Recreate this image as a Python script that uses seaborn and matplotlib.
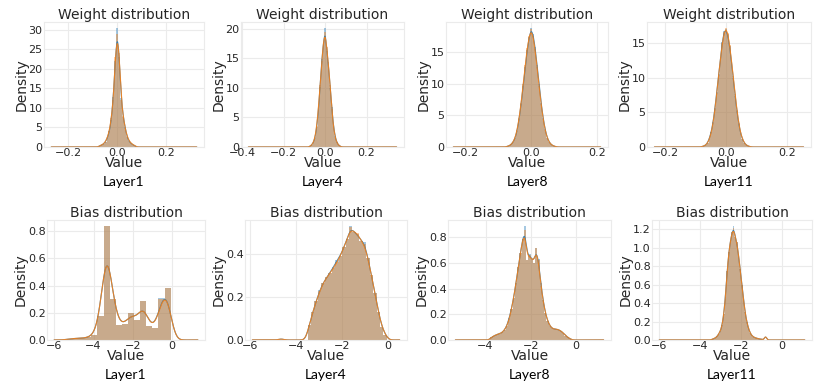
import numpy as np
import pandas as pd
import matplotlib
matplotlib.use("Agg")
import matplotlib.pyplot as plt
from matplotlib.ticker import MultipleLocator
import seaborn as sns

# ---------------------------------------------------------------- data
layer_names = ["Layer1", "Layer4", "Layer8", "Layer11"]

# Weight distributions: left edge of first bar, bar width, bar densities
w_l1_start, w_l1_width = -0.076, 0.008
w_l1_blue = [0.3, 0.5, 0.8, 1.3, 2.4, 4.0, 7.0, 12.8, 22.0, 30.5, 23.0, 12.5, 7.8, 5.0, 2.6, 1.5, 0.9, 0.6, 0.3]
w_l1_orange = [0.3, 0.5, 0.8, 1.4, 2.5, 4.2, 7.5, 12.0, 23.0, 29.0, 24.0, 12.0, 8.0, 4.8, 2.8, 1.6, 1.0, 0.6, 0.35]
w_l1_tail = [-0.27, 0.325]

w_l4_start, w_l4_width = -0.076, 0.008
w_l4_blue = [0.15, 0.35, 0.8, 1.6, 3.4, 6.2, 10.2, 14.8, 17.5, 20.1, 16.2, 14.3, 10.0, 6.8, 3.6, 1.8, 0.8, 0.35, 0.15]
w_l4_orange = [0.15, 0.35, 0.8, 1.7, 3.6, 6.5, 10.5, 14.5, 17.8, 19.5, 16.8, 14.0, 10.5, 6.4, 3.5, 1.7, 0.8, 0.35, 0.15]
w_l4_tail = [-0.37, 0.345]

w_l8_start, w_l8_width = -0.075, 0.006
w_l8_blue = [0.1, 0.2, 0.4, 0.8, 1.4, 2.6, 4.5, 6.8, 9.6, 12.6, 15.3, 17.4, 18.8, 17.9, 15.8, 12.9, 9.9, 7.0, 4.6, 2.8, 1.5, 0.8, 0.4, 0.2, 0.1]
w_l8_orange = [0.1, 0.2, 0.4, 0.8, 1.5, 2.7, 4.6, 7.0, 9.9, 12.9, 15.6, 17.5, 18.6, 17.6, 15.4, 12.6, 9.6, 6.8, 4.5, 2.7, 1.5, 0.8, 0.4, 0.2, 0.1]
w_l8_tail = [-0.235, 0.21]

w_l11_start, w_l11_width = -0.081, 0.006
w_l11_blue = [0.07, 0.15, 0.3, 0.6, 1.3, 2.2, 3.6, 5.6, 8.0, 10.6, 13.0, 15.2, 16.8, 17.0, 16.3, 14.6, 12.4, 10.0, 7.4, 5.2, 3.3, 2.0, 1.1, 0.6, 0.3, 0.15, 0.07]
w_l11_orange = [0.07, 0.15, 0.3, 0.6, 1.2, 2.1, 3.5, 5.5, 7.8, 10.4, 12.8, 15.0, 16.6, 17.2, 16.5, 14.8, 12.6, 10.2, 7.6, 5.4, 3.4, 2.0, 1.2, 0.6, 0.3, 0.15, 0.07]
w_l11_tail = [-0.235, 0.255]

# Bias distributions
b_l1_start, b_l1_width = -5.35, 0.31
b_l1_blue = [0.010, 0.012, 0.012, 0.020, 0.035, 0.180, 0.84, 0.30, 0.110, 0.118, 0.200, 0.145, 0.290, 0.105, 0.088, 0.310, 0.385]
b_l1_orange = [0.010, 0.012, 0.012, 0.020, 0.035, 0.177, 0.84, 0.30, 0.110, 0.118, 0.200, 0.145, 0.290, 0.105, 0.088, 0.300, 0.385]
b_l1_tail = [-6.0, 1.3]

b_l4_start, b_l4_width = -3.5, 0.15
b_l4_blue = [0.07, 0.13, 0.18, 0.23, 0.265, 0.29, 0.31, 0.34, 0.37, 0.39, 0.43, 0.47, 0.53, 0.50, 0.49, 0.46, 0.455, 0.38, 0.30, 0.22, 0.13, 0.06, 0.025]
b_l4_orange = [0.07, 0.13, 0.18, 0.225, 0.265, 0.29, 0.31, 0.335, 0.36, 0.39, 0.43, 0.47, 0.525, 0.50, 0.495, 0.46, 0.445, 0.38, 0.30, 0.22, 0.13, 0.06, 0.025]
b_l4_tail = [-5.9, -4.65, 0.5]

b_l8_start, b_l8_width = -3.8, 0.1
b_l8_blue = [0.02, 0.03, 0.04, 0.045, 0.05, 0.06, 0.08, 0.11, 0.17, 0.24, 0.33, 0.44, 0.57, 0.68, 0.79, 0.89, 0.62, 0.67, 0.63, 0.60, 0.72, 0.63, 0.44, 0.31, 0.21, 0.15, 0.11, 0.09, 0.085, 0.085, 0.08, 0.07, 0.055, 0.035, 0.02, 0.01]
b_l8_orange = [0.02, 0.03, 0.04, 0.045, 0.05, 0.06, 0.08, 0.11, 0.16, 0.24, 0.33, 0.44, 0.57, 0.68, 0.79, 0.86, 0.62, 0.66, 0.63, 0.60, 0.72, 0.62, 0.42, 0.31, 0.21, 0.15, 0.11, 0.09, 0.085, 0.085, 0.08, 0.07, 0.055, 0.035, 0.02, 0.01]
b_l8_tail = [-5.34, 1.24]

b_l11_start, b_l11_width = -3.44, 0.08
b_l11_blue = [0.01, 0.015, 0.025, 0.04, 0.07, 0.10, 0.16, 0.28, 0.47, 0.75, 0.95, 1.08, 1.17, 1.24, 1.12, 1.06, 0.93, 0.77, 0.60, 0.45, 0.30, 0.20, 0.13, 0.08, 0.05, 0.035, 0.025, 0.02, 0.015, 0.01, 0.01]
b_l11_orange = [0.01, 0.015, 0.025, 0.04, 0.07, 0.10, 0.16, 0.28, 0.45, 0.75, 0.95, 1.08, 1.17, 1.22, 1.12, 1.06, 0.93, 0.77, 0.60, 0.45, 0.30, 0.20, 0.13, 0.08, 0.05, 0.035, 0.025, 0.02, 0.015, 0.01, 0.01]
b_l11_tail = [-6.0, -0.8, 1.12]

# tail weights (tiny outlier mass that stretches the density curve)
w_tail_mass = [0.01, 0.01]
b_l1_tail_mass = [0.001, 0.001]
b_l4_tail_mass = [0.001, 0.008, 0.001]
b_l8_tail_mass = [0.001, 0.001]
b_l11_tail_mass = [0.001, 0.06, 0.001]

# ---------------------------------------------------------------- style
sns.set_theme(style="whitegrid", rc={
    "axes.edgecolor": "#ebebeb",
    "grid.color": "#ebebeb",
    "axes.linewidth": 0.8,
    "grid.linewidth": 0.8,
    "text.color": "#262626",
    "axes.labelcolor": "#262626",
    "xtick.color": "#262626",
    "ytick.color": "#262626",
    "xtick.major.size": 0,
    "ytick.major.size": 0,
    "xtick.major.pad": 0.5,
    "ytick.major.pad": 1.0,
})
plt.rcParams["font.family"] = ["DejaVu Sans"]

BLUE = "#1f77b4"
ORANGE = "#ff7f0e"

panels = [
    # row, col, title, start, width, blue, orange, tail, tail mass, bw, xstep, ystep
    (0, 0, "Weight distribution", w_l1_start, w_l1_width, w_l1_blue, w_l1_orange, w_l1_tail, w_tail_mass, 0.0055, 0.2, 5),
    (0, 1, "Weight distribution", w_l4_start, w_l4_width, w_l4_blue, w_l4_orange, w_l4_tail, w_tail_mass, 0.0055, 0.2, 5),
    (0, 2, "Weight distribution", w_l8_start, w_l8_width, w_l8_blue, w_l8_orange, w_l8_tail, w_tail_mass, 0.0045, 0.2, 5),
    (0, 3, "Weight distribution", w_l11_start, w_l11_width, w_l11_blue, w_l11_orange, w_l11_tail, w_tail_mass, 0.0045, 0.2, 5),
    (1, 0, "Bias distribution", b_l1_start, b_l1_width, b_l1_blue, b_l1_orange, b_l1_tail, b_l1_tail_mass, 0.24, 2, 0.2),
    (1, 1, "Bias distribution", b_l4_start, b_l4_width, b_l4_blue, b_l4_orange, b_l4_tail, b_l4_tail_mass, 0.12, 2, 0.2),
    (1, 2, "Bias distribution", b_l8_start, b_l8_width, b_l8_blue, b_l8_orange, b_l8_tail, b_l8_tail_mass, 0.08, 2, 0.2),
    (1, 3, "Bias distribution", b_l11_start, b_l11_width, b_l11_blue, b_l11_orange, b_l11_tail, b_l11_tail_mass, 0.06, 2, 0.2),
]

# axes rectangles in pixels (left, top, right, bottom)
rects = {
    (0, 0): (44, 22, 204, 147), (0, 1): (241, 22, 404, 147),
    (0, 2): (446, 22, 608, 147), (0, 3): (647, 22, 811, 147),
    (1, 0): (47, 220, 205, 340), (1, 1): (245, 220, 407, 340),
    (1, 2): (448, 220, 611, 340), (1, 3): (652, 220, 812, 340),
}
W, H = 830, 392
fig = plt.figure(figsize=(W / 100, H / 100), dpi=100)

for row, col, title, start, width, blue, orange, tail, tail_mass, bw, xstep, ystep in panels:
    l, t, r, b = rects[(row, col)]
    ax = fig.add_axes([l / W, 1 - b / H, (r - l) / W, (b - t) / H])
    n = len(orange)
    centers = start + width * (np.arange(n) + 0.5)
    for vals, color in ((blue, BLUE), (orange, ORANGE)):
        df = pd.DataFrame({
            "value": np.concatenate([centers, tail]),
            "w": np.concatenate([np.asarray(vals, float), tail_mass]),
        })
        std = float(np.sqrt(np.cov(df["value"], aweights=df["w"])))
        sns.histplot(data=df, x="value", weights="w",
                     binwidth=width, binrange=(start, start + n * width - width * 0.01),
                     stat="count", kde=True,
                     kde_kws=dict(bw_method=bw / std, cut=0, gridsize=1500),
                     line_kws=dict(lw=0.8, alpha=0.85), color=color, alpha=0.4,
                     edgecolor="none", linewidth=0, ax=ax)
    ax.set_title(title, fontsize=10, pad=2)
    ax.set_xlabel("Value", fontsize=10, labelpad=-1)
    ax.set_ylabel("Density", fontsize=10, labelpad=0)
    ax.xaxis.set_major_locator(MultipleLocator(xstep))
    ax.yaxis.set_major_locator(MultipleLocator(ystep))
    ax.tick_params(labelsize=8)
    ax.text(0.5, -0.28 if row == 0 else -0.29, layer_names[col], transform=ax.transAxes,
            ha="center", va="center", fontsize=10, color="black", family=["Lato", "DejaVu Sans"])

fig.savefig("out.png", dpi=100)
